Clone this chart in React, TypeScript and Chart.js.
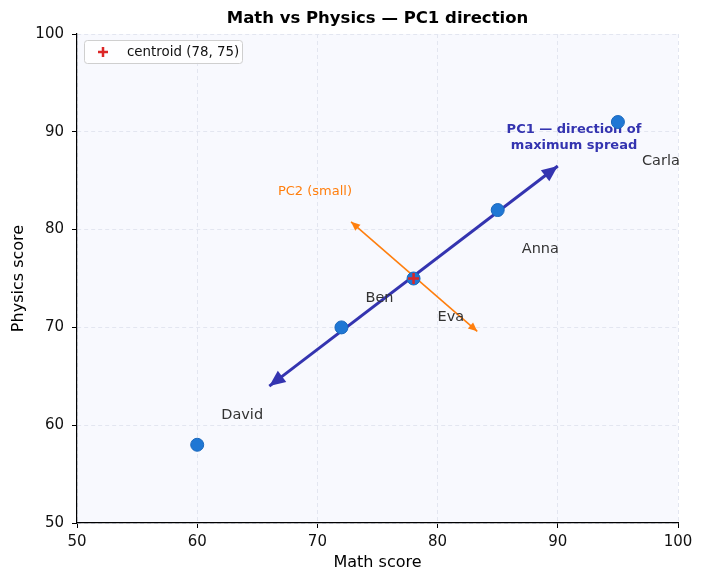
import { useEffect, useRef } from 'react';
import { Chart, registerables } from 'chart.js';

Chart.register(...registerables);

// ---- data ----
const STUDENTS = ['David', 'Ben', 'Eva', 'Anna', 'Carla'];
const MATH = [60, 72, 78, 85, 95];
const PHYSICS = [58, 70, 75, 82, 91];
const CENTROID = [78, 75];
// principal-component arrows, each a [tail, tip] pair of (math, physics) points
const PC1_X = [66, 90];
const PC1_Y = [64, 86.5];
const PC2_X = [72.8, 83.3];
const PC2_Y = [80.8, 69.6];
const X_TICKS = [50, 60, 70, 80, 90, 100];
const Y_TICKS = [50, 60, 70, 80, 90, 100];

const FONT = '"DejaVu Sans", "Liberation Sans", sans-serif';
const PC1_COLOR = '#3434b0';
const PC2_COLOR = '#ff7f0e';
const POINT_COLOR = '#1f77d4';
const CENTROID_COLOR = '#dc2626';

// label offsets for the student names, in data units
const NAME_OFFSET: Record<string, [number, number]> = {
  David: [2, 3],
  Ben: [2, 3],
  Eva: [2, -4],
  Anna: [2, -4],
  Carla: [2, -4],
};

function arrowHead(ctx: CanvasRenderingContext2D, fx: number, fy: number, tx: number, ty: number, len: number, halfW: number, color: string) {
  const ang = Math.atan2(ty - fy, tx - fx);
  ctx.save();
  ctx.translate(tx, ty);
  ctx.rotate(ang);
  ctx.beginPath();
  ctx.moveTo(0, 0);
  ctx.lineTo(-len, halfW);
  ctx.lineTo(-len, -halfW);
  ctx.closePath();
  ctx.fillStyle = color;
  ctx.fill();
  ctx.restore();
}

const decorPlugin = {
  id: 'decor',
  beforeDraw(chart: any) {
    const { ctx, chartArea: a } = chart;
    ctx.save();
    ctx.fillStyle = '#f8f9fe';
    ctx.fillRect(a.left, a.top, a.right - a.left, a.bottom - a.top);
    ctx.restore();
  },
  beforeDatasetsDraw(chart: any) {
    const { ctx, scales } = chart;
    const xs = scales.x, ys = scales.y;
    ctx.save();
    ctx.textAlign = 'center';
    ctx.textBaseline = 'middle';
    ctx.fillStyle = PC1_COLOR;
    ctx.font = `bold 13px ${FONT}`;
    const px = xs.getPixelForValue(91.35);
    const py = ys.getPixelForValue(89.4);
    ctx.fillText('PC1 — direction of', px, py - 8);
    ctx.fillText('maximum spread', px, py + 8);
    ctx.fillStyle = PC2_COLOR;
    ctx.font = `13px ${FONT}`;
    ctx.fillText('PC2 (small)', xs.getPixelForValue(69.8), ys.getPixelForValue(83.9));
    ctx.restore();
  },
  afterDatasetDraw(chart: any, args: any) {
    const ds = chart.data.datasets[args.index];
    if (!ds.arrow) return;
    const pts = args.meta.data;
    const p0 = pts[0], p1 = pts[1];
    const { len, halfW } = ds.arrow;
    arrowHead(chart.ctx, p0.x, p0.y, p1.x, p1.y, len, halfW, ds.borderColor);
    arrowHead(chart.ctx, p1.x, p1.y, p0.x, p0.y, len, halfW, ds.borderColor);
  },
  afterDraw(chart: any) {
    const { ctx, scales, chartArea: a } = chart;
    const xs = scales.x, ys = scales.y;
    ctx.save();
    // student names
    ctx.fillStyle = '#333333';
    ctx.font = `14.5px ${FONT}`;
    ctx.textAlign = 'left';
    ctx.textBaseline = 'middle';
    STUDENTS.forEach((name, i) => {
      const [dx, dy] = NAME_OFFSET[name];
      ctx.fillText(name, xs.getPixelForValue(MATH[i] + dx), ys.getPixelForValue(PHYSICS[i] + dy));
    });

    // legend
    const lx = a.left + 7.5, ly = a.top + 6.5, lw = 158, lh = 23;
    ctx.beginPath();
    ctx.roundRect(lx, ly, lw, lh, 3);
    ctx.fillStyle = 'rgba(255,255,255,0.85)';
    ctx.fill();
    ctx.strokeStyle = '#cfcfcf';
    ctx.lineWidth = 1;
    ctx.stroke();
    const cx = lx + 18.5, cy = ly + lh / 2;
    ctx.strokeStyle = CENTROID_COLOR;
    ctx.lineWidth = 2.5;
    ctx.beginPath();
    ctx.moveTo(cx - 5, cy);
    ctx.lineTo(cx + 5, cy);
    ctx.moveTo(cx, cy - 5);
    ctx.lineTo(cx, cy + 5);
    ctx.stroke();
    ctx.fillStyle = '#111111';
    ctx.font = `13.4px ${FONT}`;
    ctx.fillText(`centroid (${CENTROID[0]}, ${CENTROID[1]})`, lx + 42.5, cy + 0.5);

    // titles
    const midX = (a.left + a.right) / 2;
    const midY = (a.top + a.bottom) / 2;
    ctx.fillStyle = '#000000';
    ctx.textAlign = 'center';
    ctx.font = `bold 16.5px ${FONT}`;
    ctx.fillText('Math vs Physics — PC1 direction', midX, 19);
    ctx.font = `16px ${FONT}`;
    ctx.fillText('Math score', midX, 563);
    ctx.translate(19, midY);
    ctx.rotate(-Math.PI / 2);
    ctx.fillText('Physics score', 0, 0);
    ctx.restore();
  },
};

export default function App() {
  const canvasRef = useRef<HTMLCanvasElement | null>(null);

  useEffect(() => {
    document.body.style.margin = '0';
    const canvas = canvasRef.current;
    if (!canvas) return;

    const axisCommon = (ticksArr: number[], isX: boolean) => ({
      type: 'linear' as const,
      min: 50,
      max: 100,
      position: isX ? 'bottom' : 'left',
      afterBuildTicks: (scale: any) => {
        scale.ticks = ticksArr.map((v) => ({ value: v }));
      },
      afterFit: (scale: any) => {
        if (isX) scale.height = 60;
        else scale.width = 77;
      },
      grid: {
        color: '#e3e6f0',
        lineWidth: 1,
        tickColor: '#000000',
        tickLength: 5,
        tickWidth: 1,
        tickBorderDash: [],
      },
      border: { display: true, color: '#000000', width: 1.2, dash: [4, 3] },
      ticks: {
        color: '#111111',
        font: { family: FONT, size: 15 },
        padding: isX ? 5 : 8,
        maxRotation: 0,
        autoSkip: false,
      },
    });

    const chart = new Chart(canvas, {
      type: 'scatter',
      data: {
        datasets: [
          {
            label: 'centroid',
            data: [{ x: CENTROID[0], y: CENTROID[1] }],
            pointStyle: 'cross',
            pointRadius: 5.5,
            borderColor: CENTROID_COLOR,
            backgroundColor: CENTROID_COLOR,
            pointBorderWidth: 2.5,
            order: 0,
          },
          {
            label: 'students',
            data: MATH.map((m, i) => ({ x: m, y: PHYSICS[i] })),
            pointRadius: 6.5,
            pointBorderWidth: 1,
            backgroundColor: POINT_COLOR,
            borderColor: '#1a68bd',
            order: 1,
          },
          {
            type: 'line',
            label: 'PC1',
            data: PC1_X.map((x, i) => ({ x, y: PC1_Y[i] })),
            borderColor: PC1_COLOR,
            borderWidth: 3,
            pointRadius: 0,
            showLine: true,
            fill: false,
            order: 2,
            arrow: { len: 16, halfW: 7 },
          } as any,
          {
            type: 'line',
            label: 'PC2',
            data: PC2_X.map((x, i) => ({ x, y: PC2_Y[i] })),
            borderColor: PC2_COLOR,
            borderWidth: 1.6,
            pointRadius: 0,
            showLine: true,
            fill: false,
            order: 3,
            arrow: { len: 9, halfW: 4 },
          } as any,
        ],
      },
      options: {
        animation: false,
        responsive: false,
        maintainAspectRatio: false,
        layout: { padding: { top: 34, right: 28, left: 0, bottom: 0 } },
        plugins: {
          legend: { display: false },
          tooltip: { enabled: false },
          title: { display: false },
        },
        scales: {
          x: axisCommon(X_TICKS, true) as any,
          y: axisCommon(Y_TICKS, false) as any,
        },
      },
      plugins: [decorPlugin],
    });

    return () => chart.destroy();
  }, []);

  return (
    <div style={{ width: 706, height: 583 }}>
      <canvas ref={canvasRef} width={706} height={583} style={{ width: 706, height: 583, display: 'block' }} />
    </div>
  );
}
